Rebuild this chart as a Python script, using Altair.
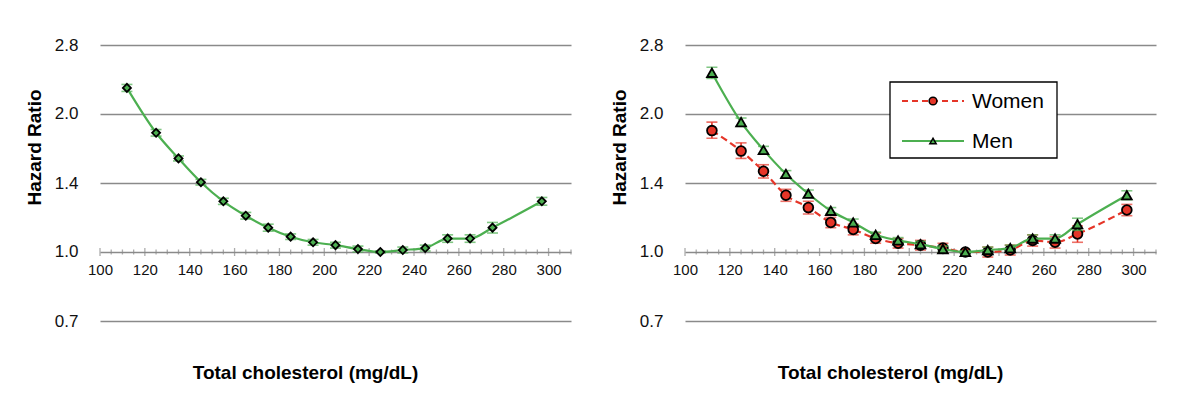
import altair as alt
import pandas as pd
import math

# ---------------- data ----------------
chol = [112, 125, 135, 145, 155, 165, 175, 185, 195, 205, 215, 225, 235, 245, 255, 265, 275, 297]

all_hr = [2.28, 1.82, 1.60, 1.42, 1.29, 1.20, 1.13, 1.08, 1.05, 1.035, 1.015, 1.00, 1.01, 1.02, 1.07, 1.07, 1.13, 1.29]
all_lo = [2.24, 1.79, 1.58, 1.40, 1.27, 1.18, 1.11, 1.065, 1.035, 1.02, 1.00, 0.995, 0.995, 1.005, 1.05, 1.05, 1.10, 1.265]
all_hi = [2.32, 1.85, 1.62, 1.44, 1.31, 1.22, 1.15, 1.095, 1.065, 1.05, 1.03, 1.005, 1.025, 1.035, 1.09, 1.09, 1.16, 1.315]

women_hr = [1.84, 1.66, 1.50, 1.33, 1.25, 1.16, 1.12, 1.07, 1.045, 1.035, 1.02, 1.00, 1.00, 1.01, 1.06, 1.05, 1.095, 1.235]
women_lo = [1.77, 1.60, 1.45, 1.29, 1.21, 1.13, 1.09, 1.045, 1.02, 1.01, 0.995, 0.995, 0.975, 0.985, 1.03, 1.02, 1.05, 1.20]
women_hi = [1.92, 1.73, 1.55, 1.37, 1.29, 1.19, 1.15, 1.10, 1.07, 1.06, 1.045, 1.005, 1.025, 1.035, 1.09, 1.08, 1.14, 1.27]

men_hr = [2.46, 1.92, 1.67, 1.48, 1.34, 1.23, 1.16, 1.09, 1.06, 1.04, 1.015, 1.00, 1.01, 1.02, 1.07, 1.07, 1.15, 1.33]
men_lo = [2.39, 1.88, 1.64, 1.455, 1.315, 1.21, 1.14, 1.075, 1.045, 1.025, 1.00, 0.995, 0.995, 1.005, 1.05, 1.05, 1.115, 1.30]
men_hi = [2.53, 1.96, 1.70, 1.505, 1.365, 1.25, 1.18, 1.105, 1.075, 1.055, 1.03, 1.005, 1.025, 1.035, 1.09, 1.09, 1.185, 1.36]

series_names = ["Women", "Men"]

y_ticks = [0.7071, 1.0, 1.4142, 2.0, 2.8284]
x_labels = [100, 120, 140, 160, 180, 200, 220, 240, 260, 280, 300]
x_minor = [100, 105, 110, 115, 120, 125, 130, 135, 140, 145, 150, 155, 160, 165, 170, 175, 180,
           185, 190, 195, 200, 205, 210, 215, 220, 225, 230, 235, 240, 245, 250, 255, 260, 265,
           270, 275, 280, 285, 290, 295, 300, 305, 310]

# ---------------- style ----------------
FONT = "Liberation Sans"
GREEN = "#4CAF50"
RED = "#E53528"
GRAY = "#8A8A8A"
W, H = 471, 276
Y_DOMAIN = [0.7071, 2.8284]
X_DOMAIN = [100, 310]

axis_y = H * math.log(Y_DOMAIN[1] / 1.0) / math.log(Y_DOMAIN[1] / Y_DOMAIN[0])

x_scale = alt.Scale(domain=X_DOMAIN, nice=False, zero=False)
y_scale = alt.Scale(type="log", base=2, domain=Y_DOMAIN, nice=False)

x_axis = alt.Axis(
    offset=-(H - axis_y), values=x_labels, domain=False, ticks=False, tickSize=0, grid=False,
    labelFontSize=15, labelFont=FONT, labelColor="#111111", labelPadding=11, labelFlush=False,
    labelOverlap=False, format="d",
    title="Total cholesterol (mg/dL)", titleFont=FONT, titleFontSize=19, titleFontWeight="bold",
    titleColor="#000000", titleX=205, titleY=121, titleBaseline="middle", titleAlign="center",
)
y_axis = alt.Axis(
    values=y_ticks, labelExpr="format(datum.value, '.1f')", domain=False, ticks=False, tickSize=0,
    grid=True, gridColor=GRAY, gridWidth=1.5,
    labelFontSize=17, labelFont=FONT, labelColor="#111111", labelPadding=22,
    title="Hazard Ratio", titleFont=FONT, titleFontSize=19, titleFontWeight="bold",
    titleColor="#000000", titleX=-66, titleY=102, titleBaseline="middle", titleAlign="center",
    titleAngle=270,
)


def X(field):
    return alt.X(field, type="quantitative", scale=x_scale, axis=x_axis)


def Y(field):
    return alt.Y(field, type="quantitative", scale=y_scale, axis=y_axis)


tick_df = pd.DataFrame({
    "t": x_minor,
    "base": [1.0] * len(x_minor),
    "len": [8 if v in x_labels else 5 for v in x_minor],
})


def axis_ticks():
    return alt.Chart(tick_df).mark_tick(orient="vertical", color=GRAY, thickness=1.3).encode(
        x=X("t"), y=Y("base"), size=alt.Size("len:Q", scale=None, legend=None)
    )


def series_layers(hr, lo, hi, color, shape, size, dash=None):
    df = pd.DataFrame({"chol": chol, "hr": hr, "lo": lo, "hi": hi})
    base = alt.Chart(df)
    bars = base.mark_rule(color=color, strokeWidth=1.6).encode(x=X("chol"), y=Y("lo"), y2="hi")
    cap_lo = base.mark_tick(orient="horizontal", color=color, size=11, thickness=1.6).encode(
        x=X("chol"), y=Y("lo"))
    cap_hi = base.mark_tick(orient="horizontal", color=color, size=11, thickness=1.6).encode(
        x=X("chol"), y=Y("hi"))
    line_kw = dict(color=color, strokeWidth=2.2, interpolate="monotone")
    if dash:
        line_kw["strokeDash"] = dash
    line = base.mark_line(**line_kw).encode(x=X("chol"), y=Y("hr"))
    pts = base.mark_point(shape=shape, filled=True, fill=color, stroke="black", strokeWidth=1.8,
                          size=size, opacity=1).encode(x=X("chol"), y=Y("hr"))
    return [bars, cap_lo, cap_hi, line, pts]


left = alt.layer(
    axis_ticks(),
    *series_layers(all_hr, all_lo, all_hi, GREEN, "diamond", 65),
).properties(width=W, height=H)

# legend (drawn manually in the right panel)
one = pd.DataFrame({"name": ["x"]})
leg_box = alt.Chart(one).mark_rect(fill="white", stroke="black", strokeWidth=1.3).encode(
    x=alt.value(205), x2=alt.value(372), y=alt.value(37), y2=alt.value(113))
w_df = pd.DataFrame({"name": [series_names[0]]})
m_df = pd.DataFrame({"name": [series_names[1]]})
leg_w_line = alt.Chart(w_df).mark_rule(color=RED, strokeWidth=2, strokeDash=[6, 4]).encode(
    x=alt.value(217), x2=alt.value(279), y=alt.value(56))
leg_w_pt = alt.Chart(w_df).mark_point(shape="circle", filled=True, fill=RED, stroke="black",
                                      strokeWidth=1.5, size=60, opacity=1).encode(
    x=alt.value(248), y=alt.value(56))
leg_w_txt = alt.Chart(w_df).mark_text(align="left", baseline="middle", font=FONT, fontSize=21,
                                      color="#000000").encode(
    x=alt.value(287), y=alt.value(57), text="name:N")
leg_m_line = alt.Chart(m_df).mark_rule(color=GREEN, strokeWidth=2).encode(
    x=alt.value(217), x2=alt.value(279), y=alt.value(96))
leg_m_pt = alt.Chart(m_df).mark_point(shape="triangle-up", filled=True, fill=GREEN, stroke="black",
                                      strokeWidth=1.5, size=40, opacity=1).encode(
    x=alt.value(248), y=alt.value(96))
leg_m_txt = alt.Chart(m_df).mark_text(align="left", baseline="middle", font=FONT, fontSize=21,
                                      color="#000000").encode(
    x=alt.value(287), y=alt.value(97), text="name:N")

right = alt.layer(
    axis_ticks(),
    *series_layers(women_hr, women_lo, women_hi, RED, "circle", 95, dash=[7, 4]),
    *series_layers(men_hr, men_lo, men_hi, GREEN, "triangle-up", 95),
    leg_box, leg_w_line, leg_w_pt, leg_w_txt, leg_m_line, leg_m_pt, leg_m_txt,
).properties(width=W, height=H)

chart = alt.hconcat(left, right, spacing=38).properties(
    padding={"left": 17, "top": 28, "right": 5, "bottom": 5},
    background="white",
).configure_view(stroke=None)

chart.save("out.html", embed_options={"renderer": "svg", "actions": False})
